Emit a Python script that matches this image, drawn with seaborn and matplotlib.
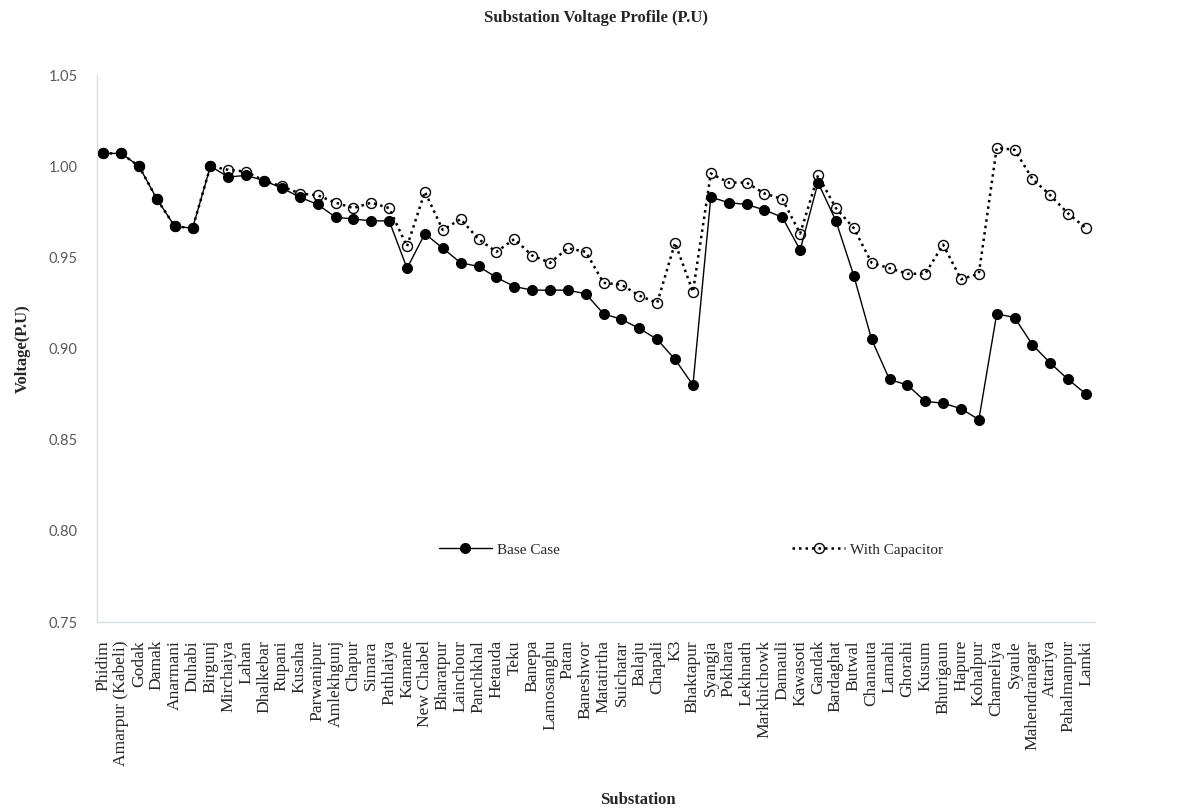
import matplotlib
matplotlib.use("Agg")
import matplotlib.pyplot as plt
import seaborn as sns
import pandas as pd
import numpy as np

substations = [
    "Phidim", "Amarpur (Kabeli)", "Godak", "Damak", "Anarmani", "Duhabi", "Birgunj",
    "Mirchaiya", "Lahan", "Dhalkebar", "Rupani", "Kusaha", "Parwanipur", "Amlekhgunj",
    "Chapur", "Simara", "Pathlaiya", "Kamane", "New Chabel", "Bharatpur", "Lainchour",
    "Panchkhal", "Hetauda", "Teku", "Banepa", "Lamosanghu", "Patan", "Baneshwor",
    "Matatirtha", "Suichatar", "Balaju", "Chapali", "K3", "Bhaktapur", "Syangja",
    "Pokhara", "Lekhnath", "Markhichowk", "Damauli", "Kawasoti", "Gandak", "Bardaghat",
    "Butwal", "Chanauta", "Lamahi", "Ghorahi", "Kusum", "Bhurigaun", "Hapure",
    "Kohalpur", "Chameliya", "Syaule", "Mahendranagar", "Attariya", "Pahalmanpur", "Lamki",
]

base_case = [
    1.007, 1.007, 1.000, 0.982, 0.967, 0.966, 1.000,
    0.994, 0.995, 0.992, 0.988, 0.983, 0.979, 0.972,
    0.971, 0.970, 0.970, 0.944, 0.963, 0.955, 0.947,
    0.945, 0.939, 0.934, 0.932, 0.932, 0.932, 0.930,
    0.919, 0.916, 0.911, 0.905, 0.894, 0.880, 0.983,
    0.980, 0.979, 0.976, 0.972, 0.954, 0.991, 0.970,
    0.940, 0.905, 0.883, 0.880, 0.871, 0.870, 0.867,
    0.861, 0.919, 0.917, 0.902, 0.892, 0.883, 0.875,
]

with_capacitor = [
    1.007, 1.007, 1.000, 0.982, 0.967, 0.966, 1.000,
    0.998, 0.997, 0.992, 0.989, 0.985, 0.984, 0.980,
    0.977, 0.980, 0.977, 0.956, 0.986, 0.965, 0.971,
    0.960, 0.953, 0.960, 0.951, 0.947, 0.955, 0.953,
    0.936, 0.935, 0.929, 0.925, 0.958, 0.931, 0.996,
    0.991, 0.991, 0.985, 0.982, 0.963, 0.995, 0.977,
    0.966, 0.947, 0.944, 0.941, 0.941, 0.957, 0.938,
    0.941, 1.010, 1.009, 0.993, 0.984, 0.974, 0.966,
]

yticks = [0.75, 0.80, 0.85, 0.90, 0.95, 1.00, 1.05]

sns.set_theme(style="white")
plt.rcParams['font.family'] = ['Liberation Serif', 'DejaVu Serif']

df = pd.DataFrame({
    "idx": np.arange(len(substations)),
    "Base Case": base_case,
    "With Capacitor": with_capacitor,
})

fig = plt.figure(figsize=(11.91, 8.11), dpi=100)
ax = fig.add_axes([97 / 1191, 1 - 622 / 811, (1095 - 97) / 1191, (622 - 75) / 811])

sns.lineplot(data=df, x="idx", y="With Capacitor", ax=ax, color="black",
             linestyle=(0, (1, 1.6)), linewidth=1.8, marker="o", markersize=7.2,
             markerfacecolor="none", markeredgecolor="black", markeredgewidth=1.0,
             label="With Capacitor", zorder=2)
sns.lineplot(data=df, x="idx", y="Base Case", ax=ax, color="black",
             linestyle="-", linewidth=1.0, marker="o", markersize=7.2,
             markerfacecolor="black", markeredgecolor="black",
             label="Base Case", zorder=3)

ax.set_ylim(0.75, 1.05)
ax.set_xlim(-0.35, len(substations) - 0.5)
ax.set_yticks(yticks)
ax.set_yticklabels([f"{v:.2f}" for v in yticks], family="Lato", fontsize=10.5, color="#595959")
ax.set_xticks(df["idx"])
ax.set_xticklabels(substations, rotation=90, fontsize=12.6, va="top", ha="center")
ax.tick_params(axis="x", length=0, pad=13)
ax.tick_params(axis="y", length=0, pad=14)

for s in ["top", "right"]:
    ax.spines[s].set_visible(False)
for s in ["left", "bottom"]:
    ax.spines[s].set_color("#d9dee3")
    ax.spines[s].set_linewidth(1.0)

ax.set_xlabel("")
ax.set_ylabel("Voltage(P.U)", fontsize=12, fontweight="bold", labelpad=13)
ax.grid(False)

handles, labels = ax.get_legend_handles_labels()
order = [labels.index("Base Case"), labels.index("With Capacitor")]
ax.legend([handles[i] for i in order], [labels[i] for i in order],
          ncol=2, frameon=False, loc="center", bbox_to_anchor=(0.595, 0.132),
          fontsize=11, columnspacing=15.2, handlelength=3.5, handletextpad=0.3)

fig.text(595.5 / 1191, 1 - 18 / 811, "Substation Voltage Profile (P.U)",
         ha="center", va="center", fontsize=12, fontweight="bold")
fig.text(638 / 1191, 1 - 800 / 811, "Substation",
         ha="center", va="center", fontsize=12, fontweight="bold")

fig.savefig("out.png", dpi=100, facecolor="white")
